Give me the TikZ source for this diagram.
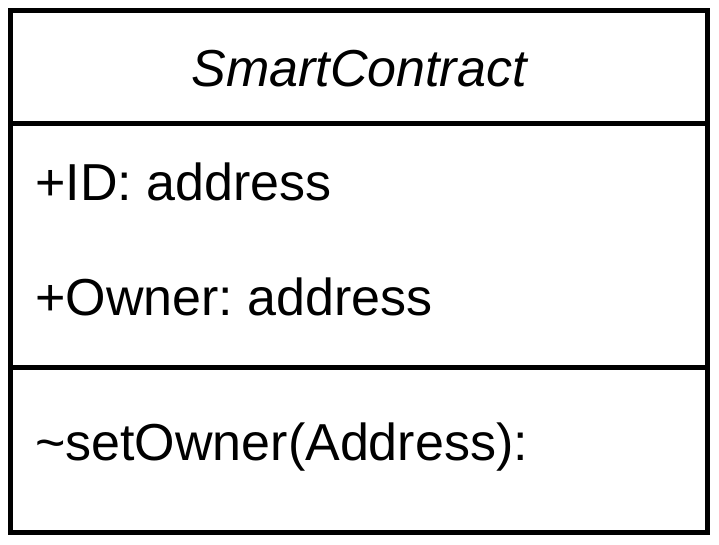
\documentclass[tikz,border=0pt]{standalone}
\usepackage{fontspec}
\setmainfont{Liberation Sans}
\frenchspacing
\begin{document}
\begin{tikzpicture}[x=1pt,y=-1pt,
  frame/.style={draw=black,line width=5pt},
  umltext/.style={inner sep=0pt,anchor=base west,font=\fontsize{52}{62}\selectfont},
  umltitle/.style={inner sep=0pt,anchor=base,font=\fontsize{52}{62}\selectfont\itshape}]
\useasboundingbox (0,0) rectangle (719,544);
\coordinate (tl) at (10.5,10.5);
\coordinate (br) at (707.5,532.5);
\coordinate (d1l) at (10.5,123.5);
\coordinate (d1r) at (707.5,123.5);
\coordinate (d2l) at (10.5,367.5);
\coordinate (d2r) at (707.5,367.5);
\draw[frame] (tl) rectangle (br);
\draw[frame] (d1l) -- (d1r);
\draw[frame] (d2l) -- (d2r);
\node[umltitle] (title) at (359,86) {SmartContract};
\node[umltext] (attr1) at (35,200) {+ID: address};
\node[umltext] (attr2) at (35,315) {+Owner: address};
\node[umltext] (op1) at (35,460) {\char`\~setOwner(Address):};
\end{tikzpicture}
\end{document}
